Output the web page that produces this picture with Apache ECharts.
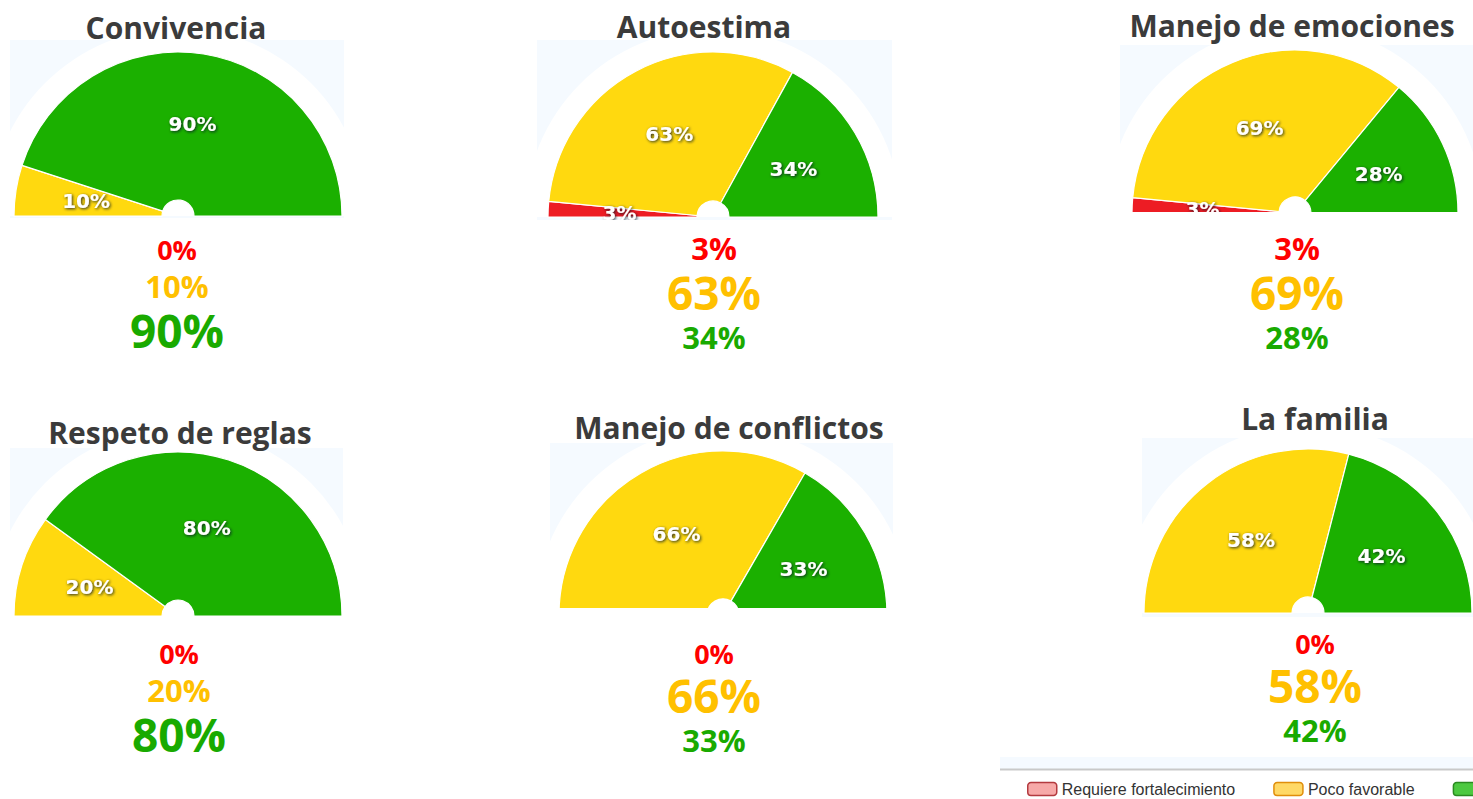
<!DOCTYPE html>
<html><head><meta charset="utf-8">
<script src="https://cdn.jsdelivr.net/npm/echarts@6/dist/echarts.min.js"></script>
<style>html,body{margin:0;padding:0;background:#fff}#c{width:1473px;height:799px}</style>
</head><body><div id="c"></div>
<script>
// ---- data ----
const categories = ['Convivencia', 'Autoestima', 'Manejo de emociones', 'Respeto de reglas', 'Manejo de conflictos', 'La familia'];
const levels = ['Requiere fortalecimiento', 'Poco favorable', 'Favorable'];
const requiereFortalecimiento = [0, 3, 3, 0, 0, 0];
const pocoFavorable = [10, 63, 69, 20, 66, 58];
const favorable = [90, 34, 28, 80, 33, 42];

// ---- layout (positions / sizes only) ----
const layout = [
  { cx: 178,  cy: 216, r: 164, box: [10, 40, 334, 178],   titleX: 176,  titleY: 27,  textX: 177,  textY: 294 },
  { cx: 713,  cy: 217, r: 165, box: [537, 40, 355, 180],  titleX: 704,  titleY: 26,  textX: 714,  textY: 292 },
  { cx: 1295, cy: 213, r: 163, box: [1120, 45, 353, 167], titleX: 1292, titleY: 25,  textX: 1297, textY: 292 },
  { cx: 178,  cy: 616, r: 164, box: [10, 448, 333, 168],  titleX: 180,  titleY: 432, textX: 179,  textY: 698 },
  { cx: 723,  cy: 615, r: 164, box: [550, 443, 343, 165], titleX: 729,  titleY: 427, textX: 714,  textY: 698 },
  { cx: 1308, cy: 613, r: 164, box: [1142, 438, 331, 179],titleX: 1315, titleY: 418, textX: 1315, textY: 688 }
];

const pieColors = ['#ed1c24', '#ffd90f', '#1bb000'];
const textColors = ['#ff0000', '#ffc000', '#19aa00'];
const ringR = 188, innerR = 16;
const fontMain = '"Open Sans", "Noto Sans", sans-serif';
const sizes = { z: [27, 33], m: [31, 39], b: [46, 50] }; // [fontSize, lineHeight]

const series = [];
const graphic = [];
categories.forEach((cat, i) => {
  const L = layout[i];
  const vals = [requiereFortalecimiento[i], pocoFavorable[i], favorable[i]];
  const mx = Math.max(...vals);
  graphic.push({ type: 'rect', z: 0, silent: true, shape: { x: L.box[0], y: L.box[1], width: L.box[2], height: L.box[3] }, style: { fill: '#f5faff' } });
  graphic.push({ type: 'sector', z: 1, silent: true, shape: { cx: L.cx, cy: L.cy, r0: 0, r: ringR, startAngle: Math.PI, endAngle: Math.PI * 2 }, style: { fill: '#ffffff' } });
  graphic.push({ type: 'rect', z: 10, silent: true, shape: { x: L.box[0] - 5, y: L.box[1] + L.box[3], width: L.box[2] + 10, height: 14 }, style: { fill: '#ffffff' } });
  graphic.push({ type: 'text', z: 20, x: L.titleX, y: L.titleY, style: { text: cat, fill: '#3b3b3b', font: 'bold 30px ' + fontMain, align: 'center', verticalAlign: 'middle' } });

  // value lines, stacked around textY
  const sz = vals.map(v => sizes[v === mx ? 'b' : (v === 0 ? 'z' : 'm')]);
  const total = sz.reduce((a, s) => a + s[1], 0);
  let top = L.textY - total / 2;
  vals.forEach((v, k) => {
    const yMid = top + sz[k][1] / 2;
    top += sz[k][1];
    graphic.push({ type: 'text', z: 20, x: L.textX, y: yMid, style: { text: v + '%', fill: textColors[k], font: 'bold ' + sz[k][0] + 'px ' + fontMain, align: 'center', verticalAlign: 'middle' } });
  });

  series.push({
    type: 'pie',
    name: cat,
    center: [L.cx, L.cy],
    radius: [innerR, L.r],
    startAngle: 180,
    endAngle: 360,
    clockwise: true,
    silent: true,
    z: 2,
    itemStyle: { borderColor: '#ffffff', borderWidth: 1.2 },
    label: {
      show: true, position: 'inside',
      formatter: p => (p.value > 0 ? p.value + '%' : ''),
      color: '#ffffff', fontSize: 20, fontWeight: 'bold', fontFamily: '"DejaVu Sans", sans-serif',
      textShadowColor: 'rgba(10,20,40,0.9)', textShadowBlur: 3, textShadowOffsetX: 1, textShadowOffsetY: 1
    },
    labelLine: { show: false },
    emphasis: { disabled: true },
    data: levels.map((n, k) => ({ name: n, value: vals[k], itemStyle: { color: pieColors[k] } }))
  });
});

graphic.push({ type: 'rect', z: 0, silent: true, shape: { x: 1000, y: 757, width: 473, height: 12 }, style: { fill: '#f5faff' } });
graphic.push({ type: 'line', z: 1, silent: true, shape: { x1: 1000, y1: 769.5, x2: 1473, y2: 769.5 }, style: { stroke: '#c9c9c9', lineWidth: 2 } });

const chart = echarts.init(document.getElementById('c'), null, { renderer: 'svg' });
chart.setOption({
  animation: false,
  backgroundColor: '#ffffff',
  legend: {
    left: 1022, top: 776, width: 2000, orient: 'horizontal',
    itemWidth: 29, itemHeight: 13, itemGap: 38, icon: 'roundRect',
    selectedMode: false,
    textStyle: { fontFamily: '"Liberation Sans", Arial, sans-serif', fontSize: 16, color: '#333333' },
    data: [
      { name: levels[0], itemStyle: { color: '#f7a9a8', borderColor: '#b33a3f', borderWidth: 1.5 } },
      { name: levels[1], itemStyle: { color: '#ffd966', borderColor: '#e08e0b', borderWidth: 1.5 } },
      { name: levels[2], itemStyle: { color: '#4cc940', borderColor: '#2a8a20', borderWidth: 1.5 } }
    ]
  },
  graphic: graphic,
  series: series
});
</script></body></html>
